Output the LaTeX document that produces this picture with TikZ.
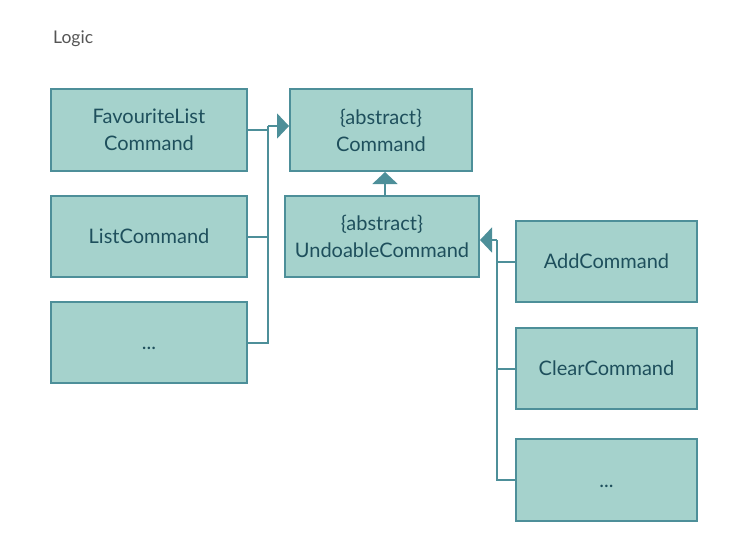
\documentclass[tikz,border=0pt]{standalone}
\usepackage{fontspec}
\setmainfont{Lato}
\usepackage{xcolor}
\usetikzlibrary{arrows.meta}

\definecolor{boxfill}{HTML}{A5D2CC}
\definecolor{boxline}{HTML}{4D8F99}
\definecolor{boxtext}{HTML}{1E4F5C}
\definecolor{titletext}{HTML}{555555}

\tikzset{
  classbox/.style={draw=boxline, line width=2pt, fill=boxfill, text=boxtext,
    align=center, inner sep=0pt, font=\fontsize{20}{27}\selectfont},
  link/.style={draw=boxline, line width=2pt},
  inherit/.style={link, -{Triangle[width=25pt, length=12pt]}}
}

\begin{document}
\begin{tikzpicture}[x=1pt, y=-1pt]
  \useasboundingbox (0,0) rectangle (741,557);

  % Package title
  \node[anchor=west, inner sep=0pt, text=titletext, font=\fontsize{17.5}{21}\selectfont] (title) at (53,39) {Logic};

  % Left column
  \node[classbox, minimum width=196pt, minimum height=82pt] (fav) at (149,130) {FavouriteList\\Command};
  \node[classbox, minimum width=196pt, minimum height=81pt] (list) at (149,236.5) {ListCommand};
  \node[classbox, minimum width=196pt, minimum height=81pt] (moreL) at (149,342.5) {\vphantom{ListCommand}...};

  % Abstract classes
  \node[classbox, minimum width=182pt, minimum height=82pt] (cmd) at (381,130) {\{abstract\}\\Command};
  \node[classbox, minimum width=194pt, minimum height=81pt] (undo) at (382,236.5) {\{abstract\}\\UndoableCommand};

  % Right column
  \node[classbox, minimum width=181pt, minimum height=81pt] (add) at (606.5,261.5) {AddCommand};
  \node[classbox, minimum width=181pt, minimum height=81pt] (clear) at (606.5,368.5) {ClearCommand};
  \node[classbox, minimum width=181pt, minimum height=82pt] (moreR) at (606.5,480) {\vphantom{ListCommand}...};

  % Joints
  \coordinate (jL) at (268,126);
  \coordinate (jR) at (497,240);

  % Left arrows
  \draw[inherit] (jL) -- (jL -| cmd.west);
  \draw[link] (fav.east) -- (fav.east -| jL);
  \draw[link] (list.east) -- (list.east -| jL);
  \draw[link] (moreL.east) -| (jL);

  % Undoable to Command
  \draw[inherit] (undo.north -| 385,0) -- (cmd.south -| 385,0);

  % Right arrows
  \draw[inherit] (jR) -- (jR -| undo.east);
  \draw[link] (add.west) -- (add.west -| jR);
  \draw[link] (clear.west) -- (clear.west -| jR);
  \draw[link] (moreR.west) -| (jR);
\end{tikzpicture}
\end{document}
